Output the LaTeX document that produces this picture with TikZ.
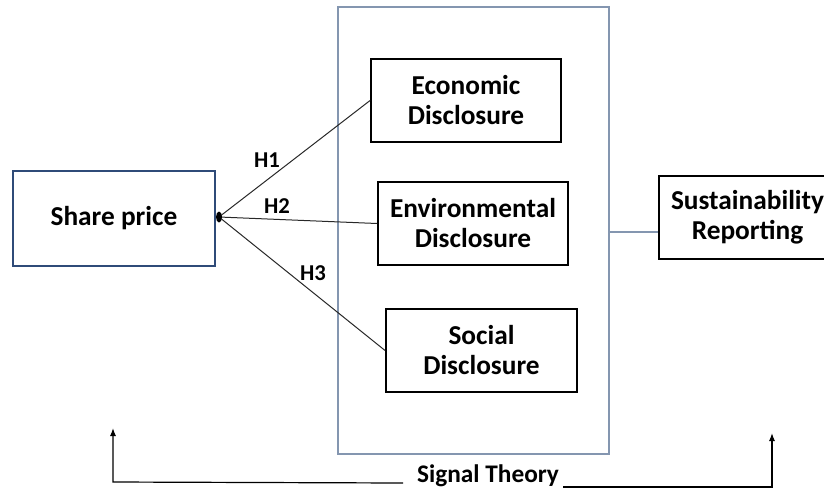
\documentclass[tikz,border=0pt]{standalone}
\usepackage{fontspec}
\setmainfont{Carlito}
\usetikzlibrary{arrows.meta,calc}
\definecolor{framecol}{RGB}{132,150,176}
\definecolor{spcol}{RGB}{47,75,120}
\definecolor{linecol}{RGB}{40,40,40}
\tikzset{
  box/.style={draw=black, line width=1.4pt, fill=white, minimum width=190*0.75pt, minimum height=83*0.75pt, align=center, inner sep=0pt, font=\fontsize{20.5}{22.5}\selectfont\bfseries},
  hyp/.style={draw=linecol, line width=0.75pt},
  hlab/.style={font=\fontsize{17}{19}\selectfont\bfseries, inner sep=0pt},
  arr/.style={draw=black, line width=0.9pt, -{Latex[length=6pt,width=4.5pt]}},
}
\begin{document}
\begin{tikzpicture}[x=0.75pt,y=-0.75pt]
\useasboundingbox (0,0) rectangle (824,490);
% frame
\draw[framecol, line width=1pt] (338,7) rectangle (609,454);
\coordinate (fr) at (609,232);
% nodes
\node[box, draw=spcol, line width=1.8pt, minimum width=202*0.75pt, minimum height=95*0.75pt] (sp) at (114,218.5) {Share price};
\node[box] (eco) at (466,100.5) {Economic\\Disclosure};
\node[box] (env) at (473,223.5) {Environmental\\Disclosure};
\node[box, minimum width=191*0.75pt] (soc) at (481.5,350.5) {Social\\Disclosure};
\node[box, minimum width=177*0.75pt] (sus) at (747.5,217.5) {Sustainability\\Reporting};
\draw[framecol, line width=1pt] (fr) -- (sus.west |- fr);
% hub
\coordinate (hub) at (219,217);
\draw[hyp] (hub) -- (eco.west);
\draw[hyp] (hub) -- (env.west);
\draw[hyp] (hub) -- (soc.west);
\fill[black] (hub) ellipse [x radius=3, y radius=5.5];
\node[hlab] (h1) at (267,160) {H1};
\node[hlab] (h2) at (277,206) {H2};
\node[hlab] (h3) at (313,273) {H3};
% signal theory
\node[font=\fontsize{19}{21}\selectfont\bfseries, inner sep=0pt] (sig) at (488,476) {Signal Theory};
\coordinate (la) at (403,483);
\coordinate (lb) at (113,482);
\coordinate (lc) at (113,428);
\coordinate (ra) at (563,487);
\coordinate (rb) at (772,487);
\coordinate (rc) at (772,433);
\draw[arr] (la) -- (lb) -- (lc);
\draw[arr] (ra) -- (rb) -- (rc);
\end{tikzpicture}
\end{document}
